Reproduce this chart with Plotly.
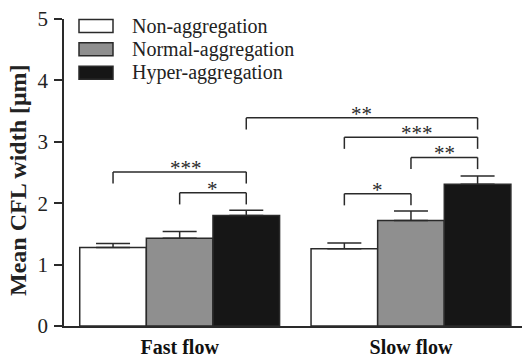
import plotly.graph_objects as go

# ---------------- data ----------------
categories = ["Fast flow", "Slow flow"]
series_names = ["Non-aggregation", "Normal-aggregation", "Hyper-aggregation"]
non_agg = [1.28, 1.26]
normal_agg = [1.43, 1.72]
hyper_agg = [1.80, 2.31]
non_agg_err = [0.065, 0.092]
normal_agg_err = [0.11, 0.152]
hyper_agg_err = [0.086, 0.135]
y_ticks = [0, 1, 2, 3, 4, 5]
y_label = "Mean CFL width [μm]"
# significance brackets: (category a, series a, category b, series b, level, label)
brackets = [
    (0, 0, 0, 2, 2.51, "***"),
    (0, 1, 0, 2, 2.17, "*"),
    (0, 2, 1, 2, 3.39, "**"),
    (1, 0, 1, 2, 3.075, "***"),
    (1, 1, 1, 2, 2.745, "**"),
    (1, 0, 1, 1, 2.155, "*"),
]

# ---------------- style ----------------
W, H = 525, 357
ML, MR, MT, MB = 64, 3, 19, 31
FONT = "Liberation Serif, Times New Roman, serif"
INK = "#2a2a2a"
fills = ["#ffffff", "#8f8f8f", "#161616"]
BARGAP = 0.136
BW = (1 - BARGAP) / 3
TICK = 0.19

values = [non_agg, normal_agg, hyper_agg]
errors = [non_agg_err, normal_agg_err, hyper_agg_err]

fig = go.Figure()
for name, vals, errs, col in zip(series_names, values, errors, fills):
    fig.add_trace(go.Bar(
        x=categories, y=vals, name=name,
        marker=dict(color=col, line=dict(color=INK, width=1.5)),
        error_y=dict(type="data", array=errs, arrayminus=[0] * len(errs),
                     symmetric=False, color=INK, thickness=1.5, width=17),
        showlegend=False,
    ))

shapes = []
annotations = []


def bar_center(cat, s):
    return cat + (s - 1) * BW


line_style = dict(color=INK, width=1.5)
for ca, sa, cb, sb, lvl, lab in brackets:
    xa, xb = bar_center(ca, sa), bar_center(cb, sb)
    shapes.append(dict(type="line", xref="x", yref="y", x0=xa, x1=xa, y0=lvl - TICK, y1=lvl, line=line_style))
    shapes.append(dict(type="line", xref="x", yref="y", x0=xa, x1=xb, y0=lvl, y1=lvl, line=line_style))
    shapes.append(dict(type="line", xref="x", yref="y", x0=xb, x1=xb, y0=lvl - TICK, y1=lvl, line=line_style))
    annotations.append(dict(x=(xa + xb) / 2, y=lvl, xref="x", yref="y", text=lab, showarrow=False,
                            yanchor="middle", yshift=4, xshift=6 if len(lab) == 3 else 0,
                            font=dict(family=FONT, size=21, color=INK)))

# manual legend (pixel layout -> paper coords)
PW, PH = W - ML - MR, H - MT - MB


def px(xp):
    return (xp - ML) / PW


def py(yp):
    return 1 - (yp - MT) / PH


row_y = [26, 49.3, 72.7]
for name, col, ry in zip(series_names, fills, row_y):
    shapes.append(dict(type="rect", xref="paper", yref="paper",
                       x0=px(79), x1=px(113), y0=py(ry + 6.5), y1=py(ry - 6.5),
                       fillcolor=col, line=dict(color=INK, width=1.5)))
    annotations.append(dict(x=px(130), y=py(ry), xref="paper", yref="paper", text=name,
                            showarrow=False, xanchor="left", yanchor="middle",
                            font=dict(family=FONT, size=20, color="#222")))

annotations.append(dict(x=px(18), y=py(180), xref="paper", yref="paper", text="<b>" + y_label + "</b>",
                        showarrow=False, textangle=-90, xanchor="center", yanchor="middle",
                        font=dict(family=FONT, size=24, color="#222")))

fig.update_layout(
    width=W, height=H,
    margin=dict(l=ML, r=MR, t=MT, b=MB, pad=0),
    paper_bgcolor="white", plot_bgcolor="white",
    barmode="group", bargap=BARGAP, bargroupgap=0,
    shapes=shapes, annotations=annotations,
    showlegend=False,
    font=dict(family=FONT, color="#222"),
)
fig.update_xaxes(
    type="category", range=[-0.5, 1.48], automargin=False,
    showline=True, linecolor=INK, linewidth=1.5,
    ticks="", showgrid=False, zeroline=False,
    tickfont=dict(family=FONT, size=20, color="#111", weight="bold"),
    ticklabelstandoff=2,
)
fig.update_yaxes(
    range=[0, 5], tickvals=y_ticks, automargin=False,
    showline=True, linecolor=INK, linewidth=1.5,
    ticks="outside", ticklen=8, tickwidth=1.5, tickcolor=INK,
    showgrid=False, zeroline=False,
    tickfont=dict(family=FONT, size=21, color="#222"),
    ticklabelstandoff=2,
)

fig.write_html("out.html", config={"displayModeBar": False},
               post_script="document.body.style.margin='0';document.body.style.overflow='hidden';")
